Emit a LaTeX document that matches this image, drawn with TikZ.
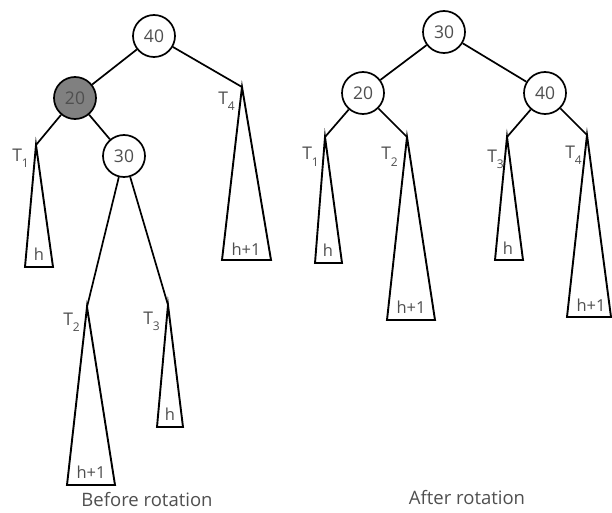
\documentclass[tikz,border=0pt]{standalone}
\usepackage{fontspec}
\setmainfont{Open Sans}
\definecolor{txt}{HTML}{4F4F4F}
\definecolor{keygray}{HTML}{808080}
\newcommand{\tsub}[2]{#1\raisebox{-6pt}{\fontsize{12}{12}\selectfont #2}}
\begin{document}
\begin{tikzpicture}[x=1pt,y=-1pt,
  key/.style={circle,draw=black,line width=1.7pt,minimum size=42pt,inner sep=0pt,
    font=\fontsize{17.5}{17.5}\selectfont,text=txt,fill=white},
  edge/.style={line width=1.7pt},
  subtree/.style={line width=1.9pt,line join=miter},
  tlab/.style={anchor=base east,inner sep=0pt,font=\fontsize{17.5}{17.5}\selectfont,text=txt},
  hlab/.style={inner sep=0pt,font=\fontsize{16.5}{16.5}\selectfont,text=txt},
  caption/.style={inner sep=0pt,font=\fontsize{18.5}{18.5}\selectfont,text=txt}]
\useasboundingbox (0,0) rectangle (612,513);
% ---------- before rotation ----------
\node[key] (L40) at (154,36) {40};
\node[key,fill=keygray] (L20) at (75,98) {20};
\node[key] (L30) at (124,156) {30};
\coordinate (L1a) at (36,145);
\coordinate (L4a) at (242,87);
\coordinate (L2a) at (87,307);
\coordinate (L3a) at (168,305);
\draw[edge] (L40) -- (L20);
\draw[edge] (L40) -- (L4a);
\draw[edge] (L20) -- (L1a);
\draw[edge] (L20) -- (L30);
\draw[edge] (L30) -- (L2a);
\draw[edge] (L30) -- (L3a);
\draw[subtree] (L1a) -- (25,267) -- (53,267) -- cycle;
\draw[subtree] (L4a) -- (222,260) -- (271,260) -- cycle;
\draw[subtree] (L2a) -- (67,485) -- (115,485) -- cycle;
\draw[subtree] (L3a) -- (157,427) -- (183,427) -- cycle;
\node[tlab] (LT1) at (29,161) {\tsub{T}{1}};
\node[tlab] (LT4) at (235,105) {\tsub{T}{4}};
\node[tlab] (LT2) at (80,325) {\tsub{T}{2}};
\node[tlab] (LT3) at (160,324) {\tsub{T}{3}};
\node[hlab] (Lh1) at (39,254) {h};
\node[hlab] (Lh4) at (246,249) {h+1};
\node[hlab] (Lh2) at (91,472) {h+1};
\node[hlab] (Lh3) at (170,414) {h};
\node[caption] (Lcap) at (147,500) {Before rotation};
% ---------- after rotation ----------
\node[key] (R30) at (444,32) {30};
\node[key] (R20) at (363,93) {20};
\node[key] (R40) at (545,93) {40};
\coordinate (R1a) at (325,137);
\coordinate (R2a) at (407,137);
\coordinate (R3a) at (507,137);
\coordinate (R4a) at (587,135);
\draw[edge] (R30) -- (R20);
\draw[edge] (R30) -- (R40);
\draw[edge] (R20) -- (R1a);
\draw[edge] (R20) -- (R2a);
\draw[edge] (R40) -- (R3a);
\draw[edge] (R40) -- (R4a);
\draw[subtree] (R1a) -- (315,263) -- (342,263) -- cycle;
\draw[subtree] (R2a) -- (387,320) -- (435,320) -- cycle;
\draw[subtree] (R3a) -- (495,260) -- (523,260) -- cycle;
\draw[subtree] (R4a) -- (567,317) -- (611,317) -- cycle;
\node[tlab] (RT1) at (319,160) {\tsub{T}{1}};
\node[tlab] (RT2) at (398,160) {\tsub{T}{2}};
\node[tlab] (RT3) at (504,162) {\tsub{T}{3}};
\node[tlab] (RT4) at (582,158) {\tsub{T}{4}};
\node[hlab] (Rh1) at (328,250) {h};
\node[hlab] (Rh2) at (411,307) {h+1};
\node[hlab] (Rh3) at (508,248) {h};
\node[hlab] (Rh4) at (591,305) {h+1};
\node[caption] (Rcap) at (467,498) {After rotation};
\end{tikzpicture}
\end{document}
